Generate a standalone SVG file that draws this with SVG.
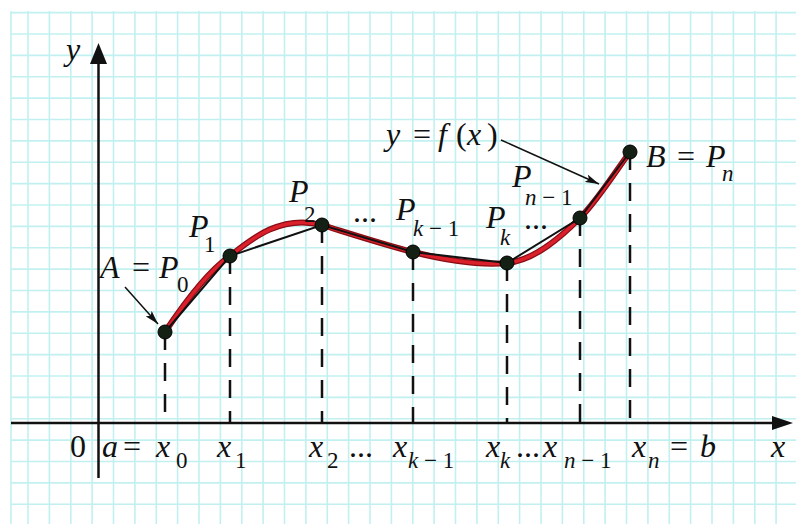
<svg xmlns="http://www.w3.org/2000/svg" width="796" height="524" viewBox="0 0 796 524">
<defs>
<style>
.grid line { stroke: #c2f0f0; stroke-width: 1.6; }
.ax { stroke: #111; stroke-width: 2.5; fill: none; }
.dash { stroke: #111; stroke-width: 2.5; stroke-dasharray: 18 13; fill: none; }
text { font-family: "Liberation Serif", "Times New Roman", serif; font-size: 32px; fill: #111; }
.i { font-style: italic; }
.s { font-size: 23px; }
.pt { fill: #142014; stroke: #000; stroke-width: 1; }
.ptr { stroke: #111; stroke-width: 1.5; fill: none; marker-end: url(#ah); }
</style>
<marker id="ah" viewBox="0 0 14 8" refX="14" refY="4" markerWidth="14" markerHeight="8" markerUnits="userSpaceOnUse" orient="auto">
<path d="M0,0 L14,4 L0,8 L3,4 Z" fill="#111"/>
</marker>
</defs>
<rect x="0" y="0" width="796" height="524" fill="#fff"/>
<g class="grid" id="grid">
<line x1="11" y1="11" x2="11" y2="524"/>
<line x1="28" y1="11" x2="28" y2="524"/>
<line x1="49.4" y1="11" x2="49.4" y2="524"/>
<line x1="70.8" y1="11" x2="70.8" y2="524"/>
<line x1="92.1" y1="11" x2="92.1" y2="524"/>
<line x1="113.5" y1="11" x2="113.5" y2="524"/>
<line x1="134.9" y1="11" x2="134.9" y2="524"/>
<line x1="156.3" y1="11" x2="156.3" y2="524"/>
<line x1="177.6" y1="11" x2="177.6" y2="524"/>
<line x1="199" y1="11" x2="199" y2="524"/>
<line x1="220.4" y1="11" x2="220.4" y2="524"/>
<line x1="241.8" y1="11" x2="241.8" y2="524"/>
<line x1="263.1" y1="11" x2="263.1" y2="524"/>
<line x1="284.5" y1="11" x2="284.5" y2="524"/>
<line x1="305.9" y1="11" x2="305.9" y2="524"/>
<line x1="327.3" y1="11" x2="327.3" y2="524"/>
<line x1="348.6" y1="11" x2="348.6" y2="524"/>
<line x1="370" y1="11" x2="370" y2="524"/>
<line x1="391.4" y1="11" x2="391.4" y2="524"/>
<line x1="412.8" y1="11" x2="412.8" y2="524"/>
<line x1="434.1" y1="11" x2="434.1" y2="524"/>
<line x1="455.5" y1="11" x2="455.5" y2="524"/>
<line x1="476.9" y1="11" x2="476.9" y2="524"/>
<line x1="498.3" y1="11" x2="498.3" y2="524"/>
<line x1="519.6" y1="11" x2="519.6" y2="524"/>
<line x1="541" y1="11" x2="541" y2="524"/>
<line x1="562.4" y1="11" x2="562.4" y2="524"/>
<line x1="583.8" y1="11" x2="583.8" y2="524"/>
<line x1="605.1" y1="11" x2="605.1" y2="524"/>
<line x1="626.5" y1="11" x2="626.5" y2="524"/>
<line x1="647.9" y1="11" x2="647.9" y2="524"/>
<line x1="669.3" y1="11" x2="669.3" y2="524"/>
<line x1="690.6" y1="11" x2="690.6" y2="524"/>
<line x1="712" y1="11" x2="712" y2="524"/>
<line x1="733.4" y1="11" x2="733.4" y2="524"/>
<line x1="754.8" y1="11" x2="754.8" y2="524"/>
<line x1="776.1" y1="11" x2="776.1" y2="524"/>
<line x1="11" y1="12.6" x2="796" y2="12.6"/>
<line x1="11" y1="34" x2="796" y2="34"/>
<line x1="11" y1="55.4" x2="796" y2="55.4"/>
<line x1="11" y1="76.8" x2="796" y2="76.8"/>
<line x1="11" y1="98.1" x2="796" y2="98.1"/>
<line x1="11" y1="119.5" x2="796" y2="119.5"/>
<line x1="11" y1="140.9" x2="796" y2="140.9"/>
<line x1="11" y1="162.3" x2="796" y2="162.3"/>
<line x1="11" y1="183.6" x2="796" y2="183.6"/>
<line x1="11" y1="205" x2="796" y2="205"/>
<line x1="11" y1="226.4" x2="796" y2="226.4"/>
<line x1="11" y1="247.8" x2="796" y2="247.8"/>
<line x1="11" y1="269.1" x2="796" y2="269.1"/>
<line x1="11" y1="290.5" x2="796" y2="290.5"/>
<line x1="11" y1="311.9" x2="796" y2="311.9"/>
<line x1="11" y1="333.3" x2="796" y2="333.3"/>
<line x1="11" y1="354.6" x2="796" y2="354.6"/>
<line x1="11" y1="376" x2="796" y2="376"/>
<line x1="11" y1="397.4" x2="796" y2="397.4"/>
<line x1="11" y1="418.8" x2="796" y2="418.8"/>
<line x1="11" y1="440.1" x2="796" y2="440.1"/>
<line x1="11" y1="461.5" x2="796" y2="461.5"/>
<line x1="11" y1="482.9" x2="796" y2="482.9"/>
<line x1="11" y1="504.3" x2="796" y2="504.3"/>
</g>
<g id="axes">
<line class="ax" x1="98.5" y1="62" x2="98.5" y2="478"/>
<path d="M98.5,43 L90,64 L107,64 Z" fill="#111"/>
<line class="ax" x1="11" y1="423" x2="776" y2="423"/>
<path d="M793,423 L772,416 L772,430 Z" fill="#111"/>
</g>
<g id="connectors">
<line class="dash" x1="165" y1="332" x2="165" y2="423"/>
<line class="dash" x1="230" y1="256" x2="230" y2="423"/>
<line class="dash" x1="322" y1="225" x2="322" y2="423"/>
<line class="dash" x1="413" y1="252" x2="413" y2="423"/>
<line class="dash" x1="507" y1="263" x2="507" y2="423"/>
<line class="dash" x1="580" y1="218" x2="580" y2="423"/>
<line class="dash" x1="630" y1="152" x2="630" y2="423"/>
<path d="M165,332 C185,302 207,272 230,256 C250,240 280,214 322,225 C345,232 385,245 413,252 C441,259 475,266 507,263 C535,260.4 562,236 580,218 C598,200 615,172 630,152" fill="none" stroke="#8a0d14" stroke-width="6" stroke-linecap="round"/>
<path d="M165,332 C185,302 207,272 230,256 C250,240 280,214 322,225 C345,232 385,245 413,252 C441,259 475,266 507,263 C535,260.4 562,236 580,218 C598,200 615,172 630,152" fill="none" stroke="#d9202b" stroke-width="3.5" stroke-linecap="round"/>
<polyline points="165,332 230,256 322,225 413,252 507,263 580,218 630,152" fill="none" stroke="#111" stroke-width="2"/>
<line class="ptr" x1="125" y1="287" x2="158" y2="324"/>
<line class="ptr" x1="501" y1="140" x2="599" y2="184"/>
</g>
<g id="P0"><circle class="pt" cx="165" cy="332" r="7"/></g>
<g id="P1"><circle class="pt" cx="230" cy="256" r="7"/></g>
<g id="P2"><circle class="pt" cx="322" cy="225" r="7"/></g>
<g id="Pk-1"><circle class="pt" cx="413" cy="252" r="7"/></g>
<g id="Pk"><circle class="pt" cx="507" cy="263" r="7"/></g>
<g id="Pn-1"><circle class="pt" cx="580" cy="218" r="7"/></g>
<g id="Pn"><circle class="pt" cx="630" cy="152" r="7"/></g>
<g id="labels">
<text class="i" x="66" y="60">y</text>
<text><tspan class="i" x="100" y="278">A</tspan><tspan x="132" y="278">=</tspan><tspan class="i" x="159" y="278">P</tspan><tspan class="s" x="177" y="292">0</tspan></text>
<text><tspan class="i" x="189" y="237">P</tspan><tspan class="s" x="204" y="252">1</tspan></text>
<text><tspan class="i" x="289" y="202">P</tspan><tspan class="s" x="304" y="222">2</tspan></text>
<text x="353" y="222">...</text>
<text><tspan class="i" x="396" y="220">P</tspan><tspan class="s" x="413" y="236"><tspan class="i">k</tspan> − 1</tspan></text>
<text><tspan class="i" x="486" y="228">P</tspan><tspan class="s i" x="500" y="245">k</tspan></text>
<text x="524" y="229">...</text>
<text><tspan class="i" x="512" y="187">P</tspan><tspan class="s" x="525" y="205"><tspan class="i">n</tspan> − 1</tspan></text>
<text><tspan class="i" x="646" y="167">B</tspan><tspan x="677" y="167">=</tspan><tspan class="i" x="706" y="167">P</tspan><tspan class="s i" x="722" y="181">n</tspan></text>
<text><tspan class="i" x="386" y="145">y</tspan><tspan x="413" y="145">=</tspan><tspan class="i" x="438" y="145">f</tspan><tspan x="456" y="145">(</tspan><tspan class="i" x="467" y="145">x</tspan><tspan x="487" y="145">)</tspan></text>
<text x="70" y="457">0</text>
<text><tspan class="i" x="102" y="457">a</tspan><tspan x="123" y="457">=</tspan><tspan class="i" x="156" y="457">x</tspan><tspan class="s" x="176" y="468">0</tspan></text>
<text><tspan class="i" x="217" y="457">x</tspan><tspan class="s" x="235" y="468">1</tspan></text>
<text><tspan class="i" x="309" y="457">x</tspan><tspan class="s" x="327" y="468">2</tspan><tspan x="349" y="457">...</tspan></text>
<text><tspan class="i" x="393" y="457">x</tspan><tspan class="s" x="408" y="468"><tspan class="i">k</tspan> − 1</tspan></text>
<text><tspan class="i" x="486" y="457">x</tspan><tspan class="s i" x="500" y="468">k</tspan><tspan x="516" y="457">...</tspan><tspan class="i" x="543" y="457">x</tspan><tspan class="s" x="564" y="468"><tspan class="i">n</tspan> − 1</tspan></text>
<text><tspan class="i" x="632" y="457">x</tspan><tspan class="s i" x="648" y="468">n</tspan><tspan x="670" y="457">=</tspan><tspan class="i" x="700" y="457">b</tspan></text>
<text class="i" x="771" y="457">x</text>
</g>
</svg>
